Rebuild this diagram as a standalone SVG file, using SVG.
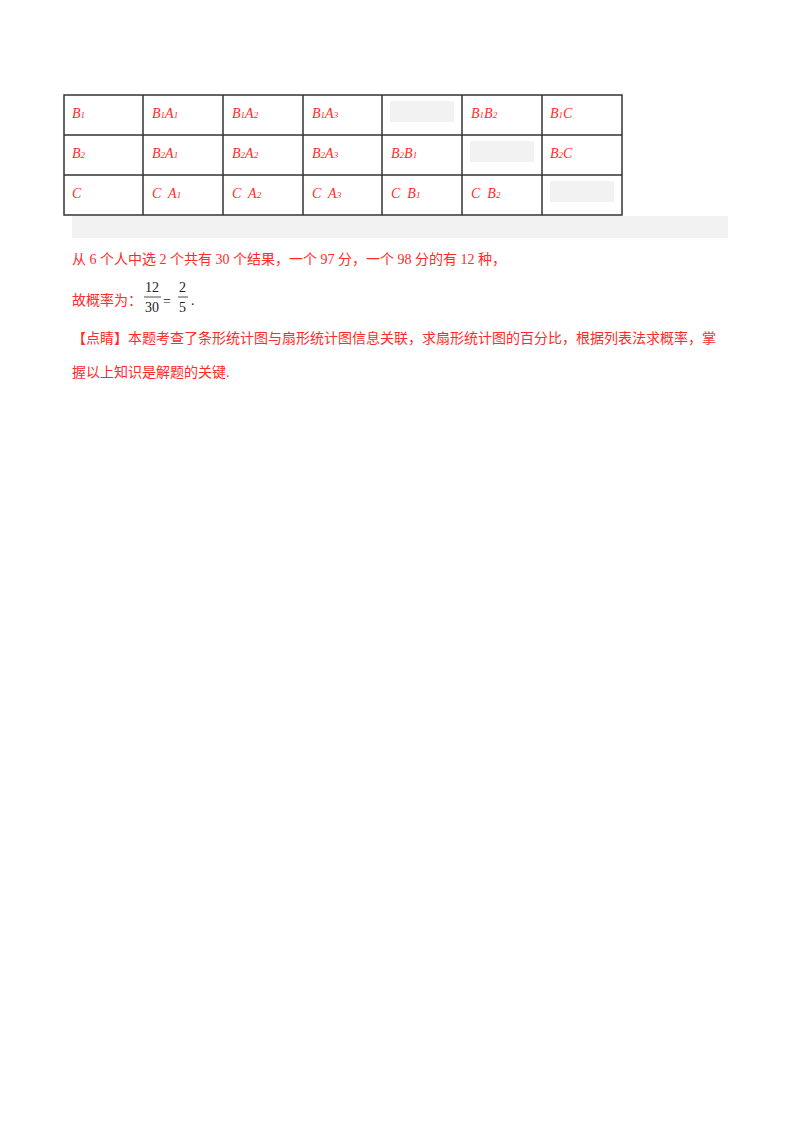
<svg xmlns="http://www.w3.org/2000/svg" width="800" height="1132" viewBox="0 0 800 1132">
<style>
.c{font-family:"Liberation Serif",serif;font-style:italic;font-size:14px;fill:#ff2a2a}
.s{font-size:9px}
.t{font-family:"Liberation Serif","Noto Sans CJK SC",serif;font-size:14px;fill:#ff2a2a}
.m{font-family:"Liberation Serif",serif;font-size:14px;fill:#222}
.g{fill:#f2f2f2}
</style>
<rect width="800" height="1132" fill="#fff"/>
<rect class="g" x="72" y="216" width="656" height="22"/>
<rect class="g" x="390" y="101" width="64" height="21"/>
<rect class="g" x="470" y="141" width="64" height="21"/>
<rect class="g" x="550" y="181" width="64" height="21"/>
<g fill="none" stroke="#333" stroke-width="1.5">
<rect x="64" y="95" width="558" height="120"/>
<path d="M64 135H622M64 175H622M143 95V215M223 95V215M303 95V215M382 95V215M462 95V215M542 95V215"/>
</g>
<g class="c">
<text x="72" y="118">B<tspan class="s">1</tspan></text>
<text x="152" y="118">B<tspan class="s">1</tspan>A<tspan class="s">1</tspan></text>
<text x="232" y="118">B<tspan class="s">1</tspan>A<tspan class="s">2</tspan></text>
<text x="312" y="118">B<tspan class="s">1</tspan>A<tspan class="s">3</tspan></text>
<text x="471" y="118">B<tspan class="s">1</tspan>B<tspan class="s">2</tspan></text>
<text x="550" y="118">B<tspan class="s">1</tspan>C</text>
<text x="72" y="158">B<tspan class="s">2</tspan></text>
<text x="152" y="158">B<tspan class="s">2</tspan>A<tspan class="s">1</tspan></text>
<text x="232" y="158">B<tspan class="s">2</tspan>A<tspan class="s">2</tspan></text>
<text x="312" y="158">B<tspan class="s">2</tspan>A<tspan class="s">3</tspan></text>
<text x="391" y="158">B<tspan class="s">2</tspan>B<tspan class="s">1</tspan></text>
<text x="550" y="158">B<tspan class="s">2</tspan>C</text>
<text x="72" y="198">C</text>
<text x="152" y="198" xml:space="preserve">C  A<tspan class="s">1</tspan></text>
<text x="232" y="198" xml:space="preserve">C  A<tspan class="s">2</tspan></text>
<text x="312" y="198" xml:space="preserve">C  A<tspan class="s">3</tspan></text>
<text x="391" y="198" xml:space="preserve">C  B<tspan class="s">1</tspan></text>
<text x="471" y="198" xml:space="preserve">C  B<tspan class="s">2</tspan></text>
</g>
<text class="t" x="72" y="264">从 6 个人中选 2 个共有 30 个结果，一个 97 分，一个 98 分的有 12 种，</text>
<text class="t" x="72" y="305">故概率为：</text>
<text class="m" x="145" y="292">12</text>
<line x1="144" y1="297" x2="161" y2="297" stroke="#222" stroke-width="0.8"/>
<text class="m" x="145" y="312">30</text>
<text class="m" x="163" y="306" font-size="18">=</text>
<text class="m" x="179" y="292">2</text>
<line x1="178" y1="297" x2="188" y2="297" stroke="#222" stroke-width="0.8"/>
<text class="m" x="179" y="312">5</text>
<text class="m" x="191" y="305">.</text>
<text class="t" x="72" y="343">【点睛】本题考查了条形统计图与扇形统计图信息关联，求扇形统计图的百分比，根据列表法求概率，掌</text>
<text class="t" x="72" y="377">握以上知识是解题的关键.</text>
</svg>
